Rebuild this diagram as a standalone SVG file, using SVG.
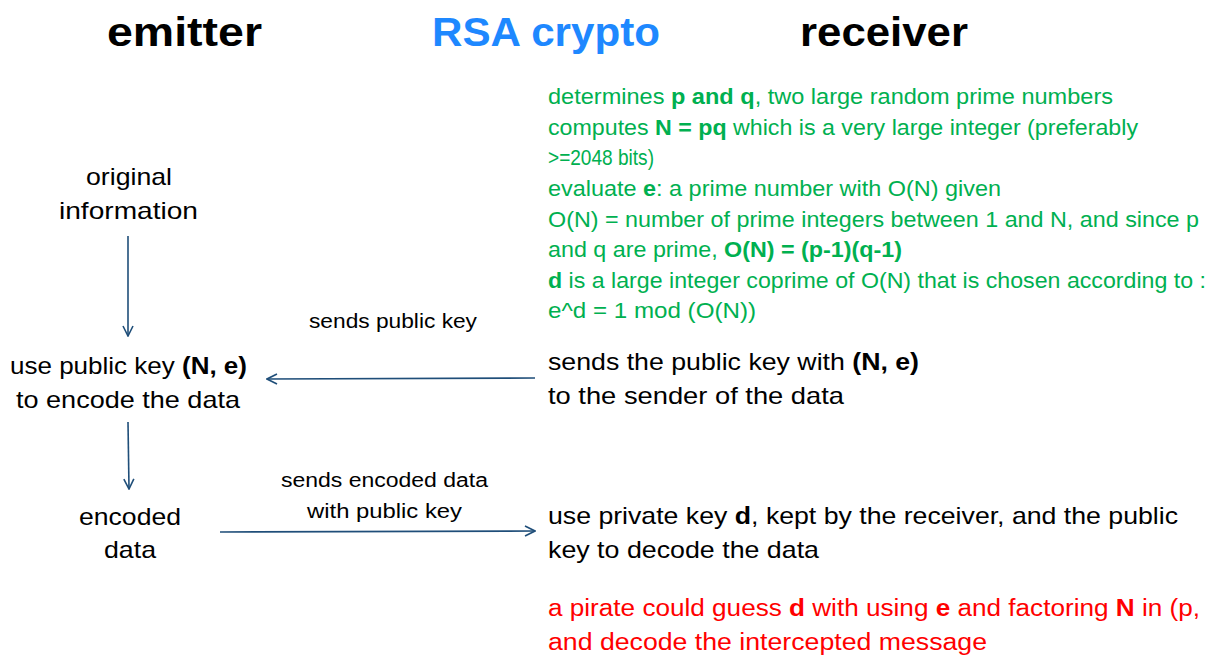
<svg xmlns="http://www.w3.org/2000/svg" width="1210" height="657" viewBox="0 0 1210 657">
<style>
text{font-family:"Liberation Sans",Arial,sans-serif;}
.title{font-size:41px;font-weight:bold;fill:#000;}
.blue{fill:#1E88FF;}
.green{font-size:22.5px;fill:#00B050;}
.red{font-size:23.5px;fill:#FF0000;}
.body{font-size:24px;fill:#000;}
.lbl{font-size:20px;fill:#000;}
.b{font-weight:bold;}
.conn{stroke:#1F4E79;stroke-width:1.6;fill:none;}
</style>
<defs>
<marker id="arr" viewBox="0 0 12 12" refX="11" refY="6" markerWidth="12" markerHeight="12" markerUnits="userSpaceOnUse" orient="auto">
<path d="M1,1 L11,6 L1,11" fill="none" stroke="#1F4E79" stroke-width="1.6"/>
</marker>
</defs>
<g id="titles">
<text class="title" x="107" y="46" textLength="155" lengthAdjust="spacingAndGlyphs">emitter</text>
<text class="title blue" x="432" y="46" textLength="228" lengthAdjust="spacingAndGlyphs">RSA crypto</text>
<text class="title" x="800" y="46" textLength="168" lengthAdjust="spacingAndGlyphs">receiver</text>
</g>
<g id="receiver-setup">
<text class="green" x="548" y="104" textLength="565" lengthAdjust="spacingAndGlyphs">determines <tspan class="b">p and q</tspan>, two large random prime numbers</text>
<text class="green" x="548" y="135" textLength="590" lengthAdjust="spacingAndGlyphs">computes <tspan class="b">N = pq</tspan> which is a very large integer (preferably</text>
<text class="green" x="548" y="165" textLength="106" lengthAdjust="spacingAndGlyphs">&gt;=2048 bits)</text>
<text class="green" x="548" y="196" textLength="453" lengthAdjust="spacingAndGlyphs">evaluate <tspan class="b">e</tspan>: a prime number with O(N) given</text>
<text class="green" x="548" y="227" textLength="651" lengthAdjust="spacingAndGlyphs">O(N) = number of prime integers between 1 and N, and since p</text>
<text class="green" x="548" y="257" textLength="354" lengthAdjust="spacingAndGlyphs">and q are prime, <tspan class="b">O(N) = (p-1)(q-1)</tspan></text>
<text class="green" x="548" y="288" textLength="658" lengthAdjust="spacingAndGlyphs"><tspan class="b">d</tspan> is a large integer coprime of O(N) that is chosen according to :</text>
<text class="green" x="548" y="318" textLength="208" lengthAdjust="spacingAndGlyphs">e^d = 1 mod (O(N))</text>
</g>
<g id="original-information">
<text class="body" x="86" y="185" textLength="86" lengthAdjust="spacingAndGlyphs">original</text>
<text class="body" x="59" y="219" textLength="139" lengthAdjust="spacingAndGlyphs">information</text>
</g>
<g id="use-public-key">
<text class="body" x="10" y="374" textLength="237" lengthAdjust="spacingAndGlyphs">use public key <tspan class="b">(N, e)</tspan></text>
<text class="body" x="16" y="408" textLength="224" lengthAdjust="spacingAndGlyphs">to encode the data</text>
</g>
<g id="sends-public-key">
<text class="body" x="548" y="370" textLength="371" lengthAdjust="spacingAndGlyphs">sends the public key with <tspan class="b">(N, e)</tspan></text>
<text class="body" x="548" y="404" textLength="296" lengthAdjust="spacingAndGlyphs">to the sender of the data</text>
</g>
<g id="encoded-data">
<text class="body" x="79" y="525" textLength="102" lengthAdjust="spacingAndGlyphs">encoded</text>
<text class="body" x="104" y="558" textLength="52" lengthAdjust="spacingAndGlyphs">data</text>
</g>
<g id="decode">
<text class="body" x="548" y="524" textLength="630" lengthAdjust="spacingAndGlyphs">use private key <tspan class="b">d</tspan>, kept by the receiver, and the public</text>
<text class="body" x="548" y="558" textLength="271" lengthAdjust="spacingAndGlyphs">key to decode the data</text>
</g>
<g id="pirate">
<text class="red" x="548" y="616" textLength="652" lengthAdjust="spacingAndGlyphs">a pirate could guess <tspan class="b">d</tspan> with using <tspan class="b">e</tspan> and factoring <tspan class="b">N</tspan> in  (p,</text>
<text class="red" x="548" y="650" textLength="439" lengthAdjust="spacingAndGlyphs">and decode the intercepted message</text>
</g>
<g id="connectors">
<line class="conn" x1="128" y1="236" x2="128" y2="336" marker-end="url(#arr)"/>
<line class="conn" x1="535" y1="378" x2="267" y2="379" marker-end="url(#arr)"/>
<line class="conn" x1="128" y1="422" x2="129" y2="489" marker-end="url(#arr)"/>
<line class="conn" x1="220" y1="532" x2="535" y2="531" marker-end="url(#arr)"/>
<text class="lbl" x="309" y="328" textLength="168" lengthAdjust="spacingAndGlyphs">sends public key</text>
<text class="lbl" x="281" y="487" textLength="207" lengthAdjust="spacingAndGlyphs">sends encoded data</text>
<text class="lbl" x="307" y="518" textLength="155" lengthAdjust="spacingAndGlyphs">with public key</text>
</g>
</svg>
